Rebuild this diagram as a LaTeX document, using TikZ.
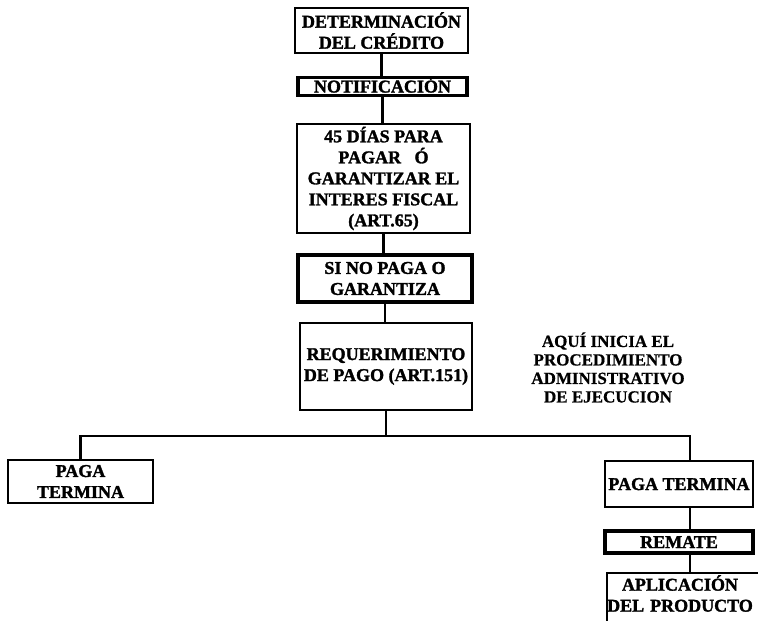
\documentclass[tikz,border=0pt]{standalone}
\usepackage{fontspec}
\setmainfont{Liberation Serif}
\newfontfamily\heavyfont{Liberation Serif}[BoldFeatures={FakeBold=1.6}]
\newfontfamily\notefont{Liberation Serif}[BoldFeatures={FakeBold=0.6}]
\begin{document}
\begin{tikzpicture}[x=1pt,y=-1pt,
  boxtext/.style={font=\heavyfont\bfseries\fontsize{18}{21}\selectfont,
    align=center, inner sep=0pt},
  thinbox/.style={boxtext, draw, line width=1.5pt},
  thickbox/.style={boxtext, draw, line width=3.4pt},
  capsonly/.style={text height=12pt, text depth=0pt},
  link/.style={line width=2.3pt},
  note/.style={font=\notefont\bfseries\fontsize{17}{18.5}\selectfont, align=center}]
\useasboundingbox (0,0) rectangle (758,621);
\clip (0,0) rectangle (758,621);

% main column
\node[thinbox, minimum width=173pt, minimum height=45pt] (det) at (381.5,30.5)
  {DETERMINACIÓN\\DEL CRÉDITO};
\node[thickbox, capsonly, minimum width=169pt, minimum height=18pt] (notif) at (382.5,86.5)
  {NOTIFICACIÓN};
\node[thinbox, minimum width=173pt, minimum height=109pt] (plazo) at (383.5,178.5)
  {45 DÍAS PARA\\PAGAR\ \ \ Ó\\GARANTIZAR EL\\INTERES FISCAL\\(ART.65)};
\node[thickbox, minimum width=174pt, minimum height=47pt] (sinopaga) at (385,278.5)
  {SI NO PAGA O\\GARANTIZA};
\node[thinbox, minimum width=172pt, minimum height=87pt] (req) at (386,366.5)
  {REQUERIMIENTO\\DE PAGO (ART.151)};

% side note
\node[note] (aqui) at (608,367.5)
  {AQUÍ INICIA EL\\PROCEDIMIENTO\\ADMINISTRATIVO\\DE EJECUCION};

% branches
\node[thinbox, line width=2pt, minimum width=145pt, minimum height=43pt] (pagaizq) at (80.5,481.5)
  {PAGA\\TERMINA};
\node[thinbox, capsonly, minimum width=148pt, minimum height=46pt] (pagader) at (679,484)
  {PAGA TERMINA};
\node[thickbox, capsonly, minimum width=148pt, minimum height=22pt] (remate) at (679,542)
  {REMATE};
\node[boxtext, anchor=north, text width=150pt, inner ysep=2pt] (aplic) at (680,573)
  {APLICACIÓN\\DEL PRODUCTO};
\draw[line width=1.5pt] ([xshift=-73pt,yshift=-30pt]aplic.south) -- ([xshift=-73pt]aplic.north)
  -- ([xshift=100pt]aplic.north);

% connectors
\coordinate (split) at (385,436);
\coordinate (rtap) at (690,436);
\draw[link] (det.south) -- (det.south |- notif.north);
\draw[link] (notif.south) -- (notif.south |- plazo.north);
\draw[link] (plazo.south) -- (plazo.south |- sinopaga.north);
\draw[link] (sinopaga.south) -- (sinopaga.south |- req.north);
\draw[link] (req.south) -- (req.south |- split);
\draw[link] (pagaizq.north) |- (rtap) -- (rtap |- pagader.north);
\draw[link] (rtap |- pagader.south) -- (rtap |- remate.north);
\draw[link] (rtap |- remate.south) -- (rtap |- aplic.north);
\end{tikzpicture}
\end{document}
